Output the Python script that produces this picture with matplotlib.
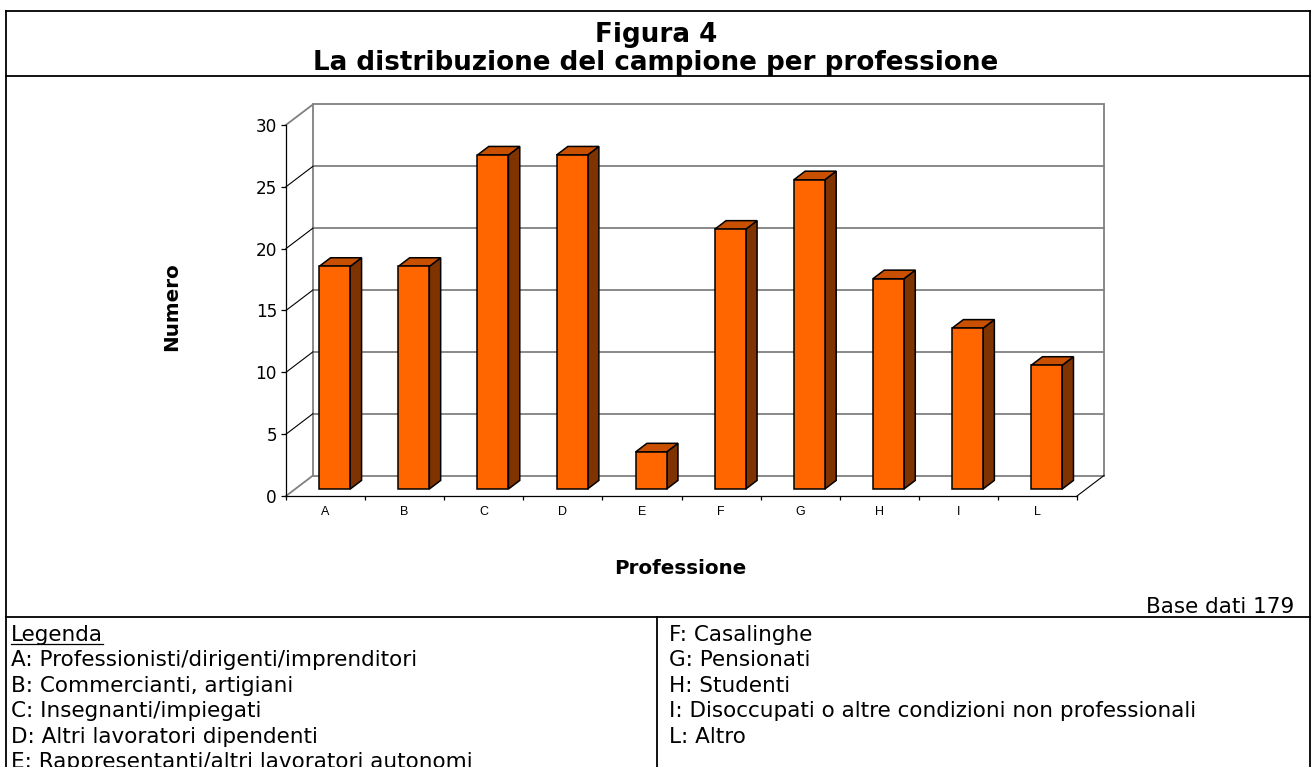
import matplotlib
matplotlib.use("Agg")
import matplotlib.pyplot as plt
from matplotlib.patches import Polygon
from matplotlib.lines import Line2D

# ---- data ----
categories = ["A", "B", "C", "D", "E", "F", "G", "H", "I", "L"]
values = [18, 18, 27, 27, 3, 21, 25, 17, 13, 10]
y_ticks = [0, 5, 10, 15, 20, 25, 30]
title_lines = ["Figura 4", "La distribuzione del campione per professione"]
y_label = "Numero"
x_label = "Professione"
base_text = "Base dati 179"
legend_title = "Legenda"
legend_left = ["A: Professionisti/dirigenti/imprenditori",
               "B: Commercianti, artigiani",
               "C: Insegnanti/impiegati",
               "D: Altri lavoratori dipendenti",
               "E: Rappresentanti/altri lavoratori autonomi"]
legend_right = ["F: Casalinghe",
                "G: Pensionati",
                "H: Studenti",
                "I: Disoccupati o altre condizioni non professionali",
                "L: Altro"]

# ---- layout / style ----
W, H = 1311, 767
FRONT = "#FF6600"
TOP = "#C85000"
SIDE = "#7F3300"
GRID = "#808080"
LEG_FS = 15.5
FAM = "DejaVu Sans"

fig = plt.figure(figsize=(W / 100, H / 100), dpi=100)
fig.patch.set_facecolor("white")


def fx(x):
    return x / W


def fy(y):
    return 1 - y / H


def hline(y, x0, x1, lw=1.3):
    fig.add_artist(Line2D([fx(x0), fx(x1)], [fy(y), fy(y)], color="black",
                          lw=lw, transform=fig.transFigure, solid_capstyle="projecting"))


def vline(x, y0, y1, lw=1.3):
    fig.add_artist(Line2D([fx(x), fx(x)], [fy(y0), fy(y1)], color="black",
                          lw=lw, transform=fig.transFigure, solid_capstyle="projecting"))


# frame
hline(11, 6, 1310)
hline(76, 6, 1310)
hline(617, 6, 1310)
vline(6, 11, 770)
vline(1310, 11, 770)
vline(657, 617, 770)

# titles
fig.text(fx(656), fy(42), title_lines[0], ha="center", va="baseline",
         fontsize=18.8, fontweight="bold", family=FAM)
fig.text(fx(656), fy(70), title_lines[1], ha="center", va="baseline",
         fontsize=18.8, fontweight="bold", family=FAM)

# axes
PX_X, PX_Y = 79.1, 12.37
X0, Y0 = 286, 496
XMAX, YMAX = 10.5, 32.5
ax = fig.add_axes([fx(X0), fy(Y0), XMAX * PX_X / W, YMAX * PX_Y / H])
ax.set_xlim(0, XMAX)
ax.set_ylim(0, YMAX)
ax.patch.set_visible(False)

DX, DY = 27 / PX_X, 20.5 / PX_Y        # depth of the 3D box in data units
ncat = len(categories)
ytop = y_ticks[-1]

# back wall
ax.add_patch(Polygon([(DX, DY), (ncat + DX, DY), (ncat + DX, ytop + DY), (DX, ytop + DY)],
                     closed=True, fill=False, edgecolor=GRID, lw=1.3, clip_on=False, zorder=1))
for t in y_ticks[1:-1]:
    ax.plot([DX, ncat + DX], [t + DY, t + DY], color=GRID, lw=1.3, clip_on=False, zorder=1)
# side wall diagonals
for t in y_ticks:
    edge = t in (y_ticks[0], y_ticks[-1])
    ax.plot([0, DX], [t, t + DY], color=GRID if edge else "black",
            lw=1.3 if edge else 0.8, clip_on=False, zorder=1)
# floor right edge
ax.plot([ncat, ncat + DX], [0, DY], color="black", lw=0.8, clip_on=False, zorder=1)

# bars
BW = 31 / PX_X
F0, BD = 0.34, 0.42
for i, v in enumerate(values):
    c = i + 0.5
    x0 = c - BW / 2 + F0 * DX
    y0 = F0 * DY
    ddx, ddy = BD * DX, BD * DY
    front = [(x0, y0), (x0 + BW, y0), (x0 + BW, y0 + v), (x0, y0 + v)]
    top = [(x0, y0 + v), (x0 + BW, y0 + v), (x0 + BW + ddx, y0 + v + ddy), (x0 + ddx, y0 + v + ddy)]
    side = [(x0 + BW, y0), (x0 + BW + ddx, y0 + ddy), (x0 + BW + ddx, y0 + v + ddy), (x0 + BW, y0 + v)]
    for poly, col in ((side, SIDE), (top, TOP), (front, FRONT)):
        ax.add_patch(Polygon(poly, closed=True, facecolor=col, edgecolor="black",
                             lw=1.1, joinstyle="miter", clip_on=False, zorder=3))

# spines & ticks
for s in ("top", "right"):
    ax.spines[s].set_visible(False)
ax.spines["left"].set_bounds(0, ytop)
ax.spines["bottom"].set_bounds(0, ncat)
for s in ("left", "bottom"):
    ax.spines[s].set_linewidth(0.9)
ax.set_yticks(y_ticks)
ax.set_yticklabels([str(t) for t in y_ticks], fontsize=12.2, family=FAM)
ax.tick_params(axis="y", direction="out", length=3.6, width=0.9, pad=2.8)
ax.set_xticks(range(ncat + 1))
ax.set_xticklabels([])
ax.tick_params(axis="x", which="major", direction="out", length=3, width=0.9)
ax.set_xticks([i + 0.5 for i in range(ncat)], minor=True)
ax.set_xticklabels(categories, minor=True, fontsize=9, family="Liberation Sans")
ax.tick_params(axis="x", which="minor", length=0, pad=7)

# axis titles
fig.text(fx(172), fy(307), y_label, rotation=90, ha="center", va="center",
         fontsize=14.3, fontweight="bold", family=FAM)
fig.text(fx(680), fy(574), x_label, ha="center", va="baseline",
         fontsize=14.3, fontweight="bold", family=FAM)
fig.text(fx(1294), fy(613), base_text, ha="right", va="baseline",
         fontsize=LEG_FS, family=FAM)

# legend
LS = 25.4
BASE0 = 641
lt = fig.text(fx(11), fy(BASE0), legend_title, ha="left", va="baseline",
              fontsize=LEG_FS, family=FAM)
fig.canvas.draw()
bb = lt.get_window_extent()
uy = fy(BASE0 + 3)
fig.add_artist(Line2D([fx(bb.x0), fx(bb.x1)], [uy, uy], color="black", lw=0.9,
                      transform=fig.transFigure))
for k, s in enumerate(legend_left):
    fig.text(fx(11), fy(BASE0 + LS * (k + 1)), s, ha="left", va="baseline",
             fontsize=LEG_FS, family=FAM)
for k, s in enumerate(legend_right):
    fig.text(fx(669), fy(BASE0 + LS * k), s, ha="left", va="baseline",
             fontsize=LEG_FS, family=FAM)

fig.savefig("out.png", dpi=100)
